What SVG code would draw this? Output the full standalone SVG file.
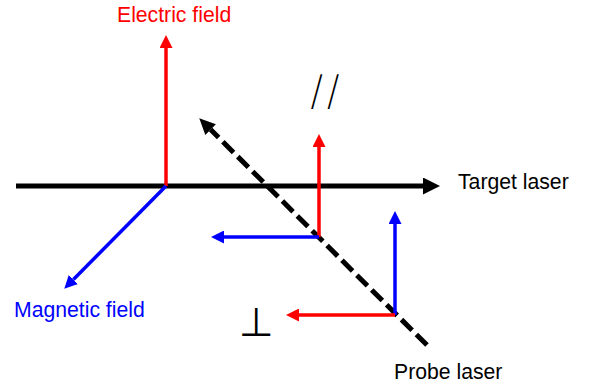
<svg xmlns="http://www.w3.org/2000/svg" width="589" height="387" viewBox="0 0 589 387">
<style>
.lbl{font-family:"Liberation Sans",Arial,sans-serif;font-size:21.2px}
.red{stroke:#ff0000;stroke-width:3.5;fill:none}
.blue{stroke:#0000ff;stroke-width:3.5;fill:none}
.blk{stroke:#000;stroke-width:5;fill:none}
</style>
<defs>
<marker id="hBig" markerUnits="userSpaceOnUse" markerWidth="17" markerHeight="17" viewBox="0 0 16 16" refX="0" refY="8" orient="auto"><path d="M0,0 L16,8 L0,16 Z" fill="#000"/></marker>
<marker id="hDash" markerUnits="userSpaceOnUse" markerWidth="16" markerHeight="16" viewBox="0 0 15 14" refX="0" refY="7" orient="auto"><path d="M0,0 L15,7 L0,14 Z" fill="#000"/></marker>
<marker id="hRed" markerUnits="userSpaceOnUse" markerWidth="13" markerHeight="13" viewBox="0 0 12 12" refX="0" refY="6" orient="auto"><path d="M0,0 L12,6 L0,12 Z" fill="#ff0000"/></marker>
<marker id="hBlue" markerUnits="userSpaceOnUse" markerWidth="13" markerHeight="13" viewBox="0 0 12 12" refX="0" refY="6" orient="auto"><path d="M0,0 L12,6 L0,12 Z" fill="#0000ff"/></marker>
</defs>
<g id="connectors">
<line id="target-laser" class="blk" x1="16" y1="186" x2="423" y2="186" marker-end="url(#hBig)"/>
<line id="probe-laser" class="blk" x1="427" y1="345" x2="210.6" y2="129.6" stroke-dasharray="15,6" marker-end="url(#hDash)"/>
<line id="e-main" class="red" x1="166" y1="186" x2="166" y2="48" marker-end="url(#hRed)"/>
<line id="b-main" class="blue" x1="166" y1="186" x2="73.4" y2="279.5" marker-end="url(#hBlue)"/>
<line id="e-par" class="red" x1="319" y1="237" x2="319" y2="147" marker-end="url(#hRed)"/>
<line id="b-par" class="blue" x1="319" y1="237" x2="224" y2="237" marker-end="url(#hBlue)"/>
<line id="b-perp" class="blue" x1="395" y1="315" x2="395" y2="224" marker-end="url(#hBlue)"/>
<line id="e-perp" class="red" x1="395" y1="315" x2="299" y2="315" marker-end="url(#hRed)"/>
</g>
<g id="label-electric"><text class="lbl" x="117" y="22" fill="#ff0000">Electric field</text></g>
<g id="label-magnetic"><text class="lbl" x="14" y="317" fill="#0000ff">Magnetic field</text></g>
<g id="label-target"><text class="lbl" x="458" y="189" fill="#000">Target laser</text></g>
<g id="label-probe"><text class="lbl" x="394" y="379" fill="#000">Probe laser</text></g>
<g id="label-parallel"><text x="310" y="105" font-family="Inter,'Liberation Sans',sans-serif" font-weight="200" font-size="40" letter-spacing="3" fill="#000">//</text></g>
<g id="label-perp"><text x="239" y="336" font-family="'DejaVu Sans',sans-serif" font-size="40" fill="#000">⊥</text></g>
</svg>
